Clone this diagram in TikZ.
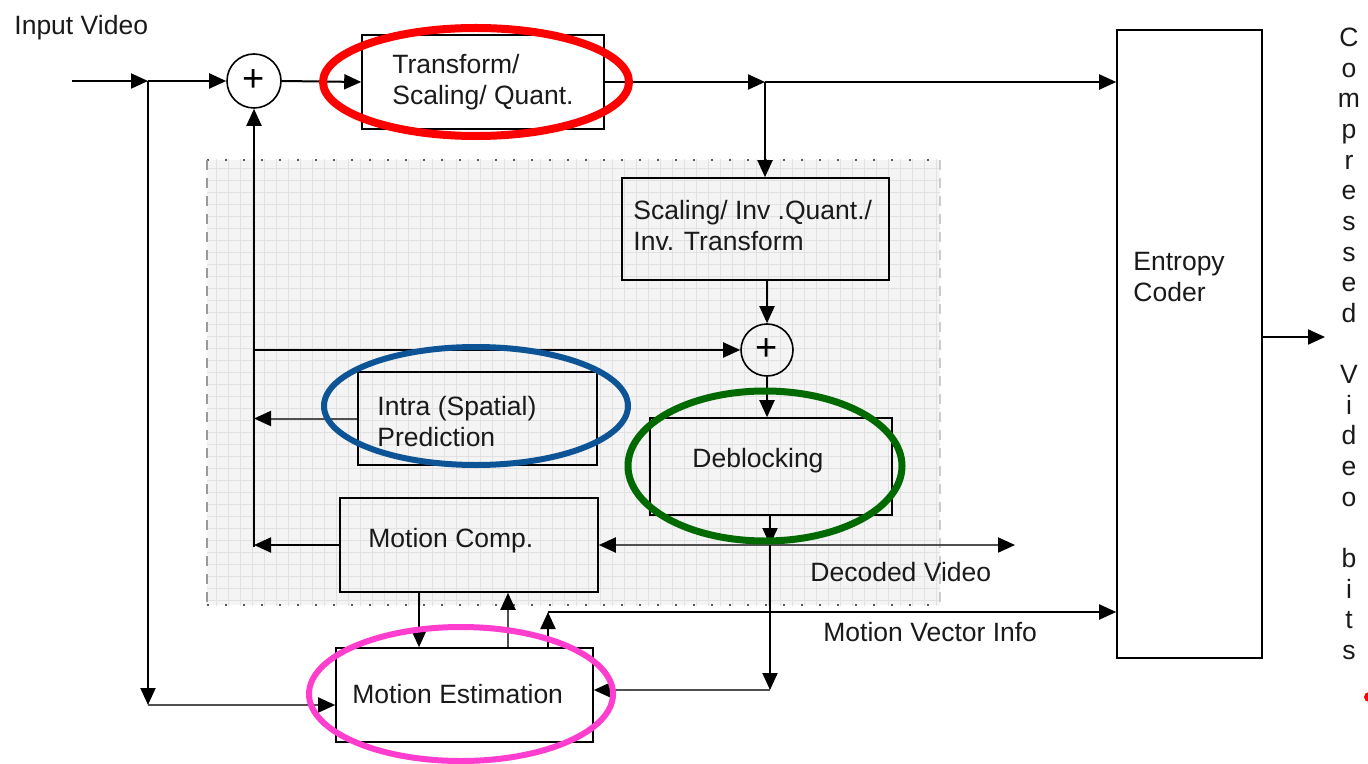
\documentclass[tikz,border=0pt]{standalone}
\usepackage{fontspec}
\setmainfont{Liberation Sans}
\usetikzlibrary{arrows.meta}
\definecolor{ink}{HTML}{1A1A1A}
\definecolor{wire}{HTML}{000000}
\definecolor{softwire}{HTML}{505050}
\definecolor{panel}{HTML}{F4F4F4}
\definecolor{panelgrid}{HTML}{E1E1E1}
\definecolor{ringred}{HTML}{FF0000}
\definecolor{ringblue}{HTML}{0D5496}
\definecolor{ringgreen}{HTML}{006A00}
\definecolor{ringpink}{HTML}{FF3DCE}
\tikzset{
  tip/.tip={Triangle[length=8.5pt,width=7.5pt,color=black]},
  blk/.style={draw=wire, line width=0.8pt, rectangle, inner sep=0pt},
  sumnode/.style={draw=wire, line width=0.8pt, circle, inner sep=0pt, font=\fontsize{19}{19}\selectfont},
  lbl/.style={text=ink, inner sep=0pt, align=left},
  vlet/.style={text=ink, inner sep=0pt, anchor=base},
  arr/.style={draw=wire, line width=1pt, -tip},
  softarr/.style={arr, draw=softwire},
  ring/.style={line width=#1},
}
\begin{document}
\begin{tikzpicture}[x=0.5pt, y=-0.5pt, font=\fontsize{13.25}{15.5}\selectfont]
\useasboundingbox (0,0) rectangle (1368,764);
\fill[white] (0,0) rectangle (1368,764);

% shaded decoder-loop panel with fine grid
\fill[panel] (207,160) rectangle (940,605);
\begin{scope}
  \clip (207,160) rectangle (940,605);
  \draw[panelgrid, line width=0.45pt, step=6pt] (200,150) grid (950,610);
\end{scope}
\draw[gray!70!black, line width=0.9pt, dash pattern=on 1.2pt off 7.8pt] (207,160) -- (940,160);
\draw[gray!70!black, line width=0.9pt, dash pattern=on 1.2pt off 7.8pt] (207,605) -- (940,605);
\draw[gray!80, line width=0.8pt, dash pattern=on 5pt off 4pt] (207,160) -- (207,605);
\draw[gray!40, line width=0.8pt, dash pattern=on 5pt off 4pt] (940,160) -- (940,605);

% blocks
\node[blk, minimum width=121pt, minimum height=47pt] (tq) at (483,82) {};
\node[blk, minimum width=133.5pt, minimum height=51pt] (inv) at (755.5,229) {};
\node[blk, minimum width=119.5pt, minimum height=46.5pt] (intra) at (477.5,418.5) {};
\node[blk, minimum width=121pt, minimum height=48.5pt] (deb) at (771,466.5) {};
\node[blk, minimum width=129pt, minimum height=47pt] (mc) at (469,545) {};
\node[blk, minimum width=128.5pt, minimum height=47pt] (me) at (464.5,695) {};
\node[blk, minimum width=72.5pt, minimum height=314pt] (ec) at (1189.5,344) {};
\node[sumnode, minimum size=27pt] (s1) at (254,81) {+};
\node[sumnode, minimum size=26pt] (s2) at (767,350) {+};

% block texts
\node[lbl, anchor=west] (tqt) at (392,82) {Transform/\\Scaling/ Quant.};
\node[lbl, anchor=west] (invt) at (633,226) {Scaling/ Inv .Quant./\\Inv. Transform};
\node[lbl, anchor=west] (intrat) at (377,422) {Intra (Spatial)\\Prediction};
\node[lbl, anchor=west] (debt) at (692,461) {Deblocking};
\node[lbl, anchor=west] (mct) at (368,541) {Motion Comp.};
\node[lbl, anchor=west] (met) at (352,694) {Motion Estimation};
\node[lbl, anchor=west] (ect) at (1133,277) {Entropy\\Coder};

% free labels
\node[lbl, anchor=west] (invid) at (14,28) {Input Video};
\node[lbl, anchor=west] (decvid) at (810,572) {Decoded Video};
\node[lbl, anchor=west] (mvinfo) at (823,632) {Motion Vector Info};

% vertical output caption
\foreach \c/\i in {C/0,o/1,m/2,p/3,r/4,e/5,s/6,s/7,e/8,d/9,V/11,i/12,d/13,e/14,o/15,b/17,i/18,t/19,s/20}
  \node[vlet] (cap\i) at (1349,{46.5+30.65*\i}) {\c};

% junction points
\coordinate (in0) at (72,81);
\coordinate (jin) at (148,81);
\coordinate (jin2) at (148,705);
\coordinate (jq) at (765,82);
\coordinate (jl) at (254,547);
\coordinate (jls) at (254,350);
\coordinate (jd) at (770,545);
\coordinate (dv) at (1015,545);
\coordinate (jme) at (770,690);
\coordinate (xa) at (419,0);
\coordinate (xb) at (508,0);
\coordinate (jmv) at (548,612);
\coordinate (out) at (1325,337);

% forward path
\draw[arr] (in0) -- (jin);
\draw[arr] (jin) -- (s1.west);
\draw[arr] (s1.east) -- (tq.west);
\draw[arr] (tq.east) -- (jq);
\draw[arr] (jq) -- (ec.west |- jq);
\draw[arr] (jq) -- (jq |- inv.north);
\draw[arr] (inv.south -| s2) -- (s2.north);
\draw[arr] (s2.south) -- (s2 |- deb.north);
\draw[arr] (deb.south -| jd) -- (jd);
\draw[arr] (ec.east |- out) -- (out);

% prediction feedback
\draw[arr] (jl) -- (s1.south);
\draw[arr] (jls) -- (s2.west);
\draw[softarr] (intra.west) -- (intra.west -| jl);
\draw[arr] (mc.west) -- (mc.west -| jl);

% decoded video and reference picture
\draw[softwire, line width=1pt, tip-tip] (mc.east |- jd) -- (dv);
\draw[arr] (jd) -- (jme);
\draw[softarr] (jme) -- (me.east |- jme);

% motion estimation links
\draw[arr] (jin) -- (jin2);
\draw[softarr] (jin2) -- (me.west |- jin2);
\draw[arr] (mc.south -| xa) -- (me.north -| xa);
\draw[softarr] (me.north -| xb) -- (mc.south -| xb);
\draw[arr] (me.north -| jmv) -- (jmv);
\draw[arr] (jmv) -- (ec.west |- jmv);

% highlight rings
\draw[ringred, ring=4pt] (476,82) ellipse [x radius=153, y radius=54];
\draw[ringblue, ring=3pt] (476,406) ellipse [x radius=152, y radius=59];
\draw[ringgreen, ring=3.5pt] (765,466) ellipse [x radius=137, y radius=75];
\draw[ringpink, ring=3pt] (461,694) ellipse [x radius=152, y radius=67];

% stray marker at the right margin
\fill[ringred] (1369,697) circle (5);
\end{tikzpicture}
\end{document}
